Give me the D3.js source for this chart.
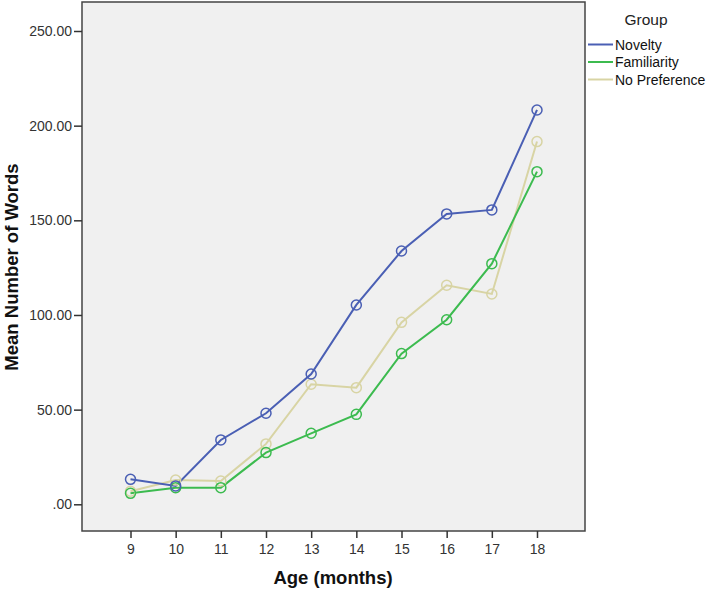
<!DOCTYPE html>
<html>
<head>
<meta charset="utf-8">
<script src="https://cdn.jsdelivr.net/npm/d3@7"></script>
<style>
  html, body { margin: 0; padding: 0; background: #ffffff; }
  svg { display: block; font-family: "Liberation Sans", Arial, sans-serif; }
</style>
</head>
<body>
<svg id="chart" width="708" height="592"></svg>
<script>
const ages = [9, 10, 11, 12, 13, 14, 15, 16, 17, 18];
const novelty = [13.2, 9.7, 34.0, 48.1, 68.8, 105.3, 133.8, 153.4, 155.5, 208.3];
const familiarity = [5.8, 8.8, 8.8, 27.3, 37.5, 47.5, 79.6, 97.5, 127.1, 175.7];
const noPreference = [6.9, 12.8, 12.3, 31.9, 63.4, 61.6, 96.1, 115.7, 111.1, 191.6];
const seriesNames = ["Novelty", "Familiarity", "No Preference"];
const seriesColors = ["#4a5fb4", "#3cbb4f", "#d8d4a4"];
const yTicks = [0, 50, 100, 150, 200, 250];
const yTickLabels = [".00", "50.00", "100.00", "150.00", "200.00", "250.00"];
const xLabel = "Age (months)";
const yLabel = "Mean Number of Words";
const legendTitle = "Group";

const series = [novelty, familiarity, noPreference].map((vals, i) => ({
  name: seriesNames[i], color: seriesColors[i],
  points: ages.map((a, j) => ({ x: a, y: vals[j] }))
}));

const svg = d3.select("#chart");
const frame = { left: 82, top: 2, right: 585, bottom: 531 };

const x = d3.scaleLinear().domain([9, 18]).range([130.5, 537]);
const y = d3.scaleLinear().domain([0, 250]).range([504.3, 31]);

// plot background
svg.append("rect")
  .attr("x", frame.left).attr("y", frame.top)
  .attr("width", frame.right - frame.left).attr("height", frame.bottom - frame.top)
  .attr("fill", "#f0f0f0").attr("stroke", "#444").attr("stroke-width", 1.5);

// y axis
const yAxis = d3.axisLeft(y).tickValues(yTicks)
  .tickFormat((d, i) => yTickLabels[i]).tickSize(8).tickPadding(2);
const gy = svg.append("g").attr("transform", `translate(${frame.left},0)`).call(yAxis);
gy.select(".domain").remove();
gy.selectAll(".tick line").attr("stroke", "#333").attr("stroke-width", 1.5);
gy.selectAll(".tick text").attr("fill", "#333").style("font-size", "14px");

// x axis
const xAxis = d3.axisBottom(x).tickValues(ages).tickFormat(d3.format("d")).tickSize(7).tickPadding(6);
const gx = svg.append("g").attr("transform", `translate(0,${frame.bottom})`).call(xAxis);
gx.select(".domain").remove();
gx.selectAll(".tick line").attr("stroke", "#333").attr("stroke-width", 1.5);
gx.selectAll(".tick text").attr("fill", "#333").style("font-size", "14px");

// axis titles
svg.append("text").attr("x", 333).attr("y", 584)
  .attr("text-anchor", "middle").style("font-size", "18.5px").style("font-weight", "bold")
  .attr("fill", "#111").text(xLabel);
svg.append("text").attr("transform", "translate(18,267) rotate(-90)")
  .attr("text-anchor", "middle").style("font-size", "18.5px").style("font-weight", "bold")
  .attr("fill", "#111").text(yLabel);

// lines
const line = d3.line().x(d => x(d.x)).y(d => y(d.y));
const gs = svg.append("g");
// draw in order: no preference, familiarity, novelty
[2, 1, 0].forEach(i => {
  const s = series[i];
  gs.append("path").datum(s.points).attr("d", line)
    .attr("fill", "none").attr("stroke", s.color).attr("stroke-width", 2);
});
[2, 1, 0].forEach(i => {
  const s = series[i];
  gs.selectAll(null).data(s.points).enter().append("circle")
    .attr("cx", d => x(d.x)).attr("cy", d => y(d.y)).attr("r", 5)
    .attr("fill", "none").attr("stroke", s.color).attr("stroke-width", 1.5);
});

// legend
svg.append("text").attr("x", 646).attr("y", 25).attr("text-anchor", "middle")
  .style("font-size", "15.5px").attr("fill", "#222").text(legendTitle);
const lg = svg.append("g");
series.forEach((s, i) => {
  const ly = 44.5 + i * 17.5;
  lg.append("line").attr("x1", 588).attr("x2", 613).attr("y1", ly).attr("y2", ly)
    .attr("stroke", s.color).attr("stroke-width", 2);
  lg.append("text").attr("x", 615).attr("y", ly + 5)
    .style("font-size", "14px").attr("fill", "#111").text(s.name);
});
</script>
</body>
</html>
